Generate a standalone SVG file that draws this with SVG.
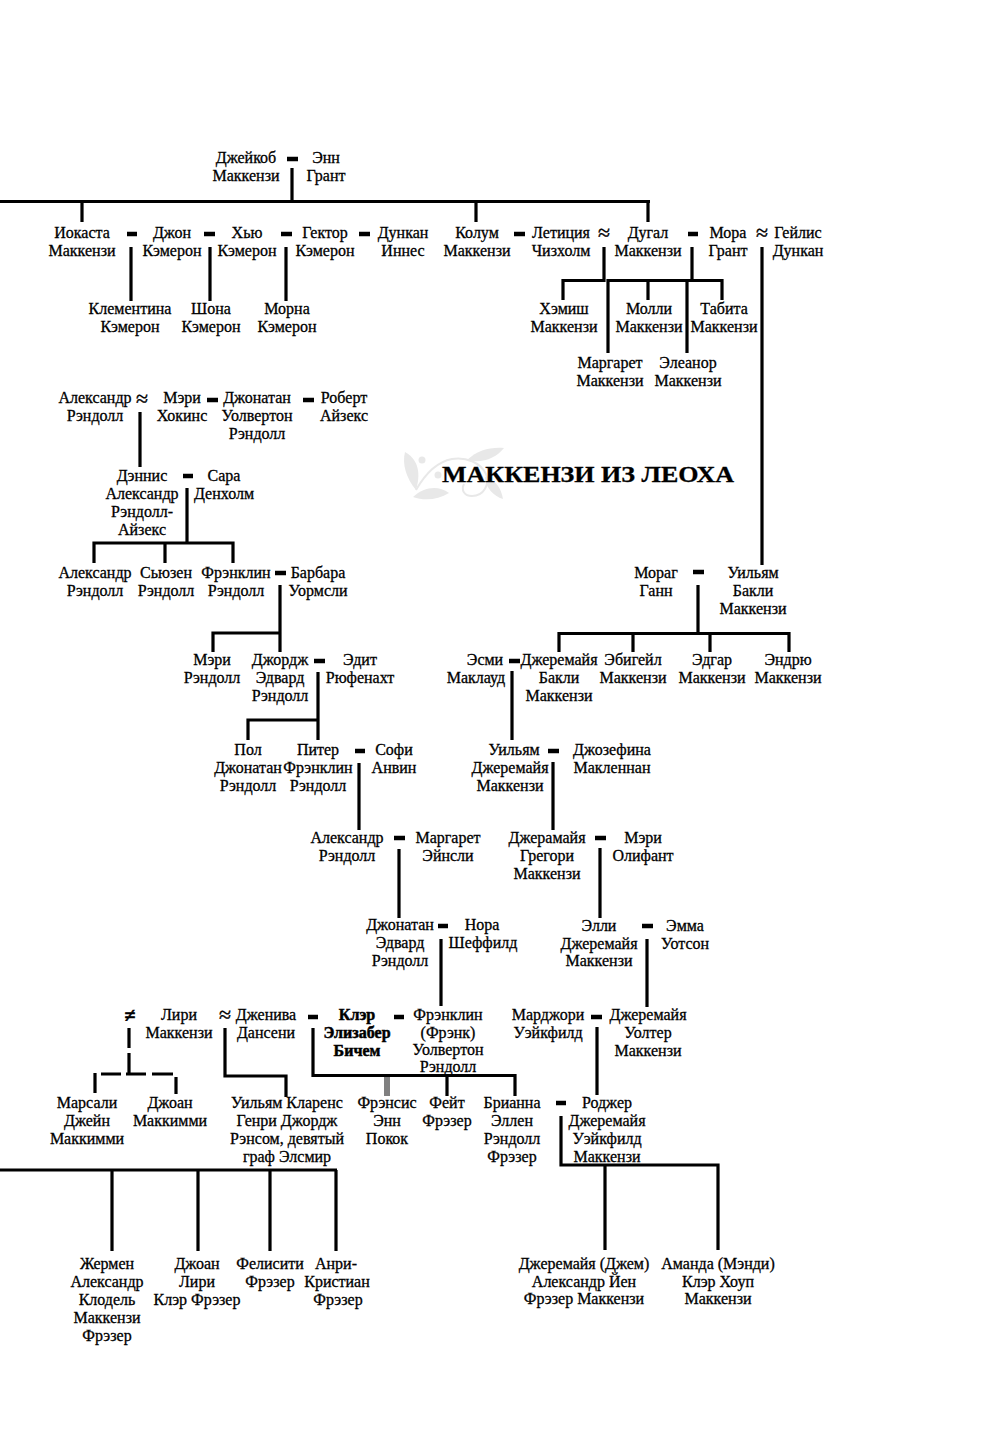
<svg xmlns="http://www.w3.org/2000/svg" width="986" height="1447" viewBox="0 0 986 1447">
<style>
text{font-family:"Liberation Serif","DejaVu Serif",serif;font-size:16px;fill:#000;stroke:#000;stroke-width:.3;text-anchor:middle}
.b{font-weight:700;stroke-width:.5}
.title{font-size:24px;font-weight:700;stroke-width:.3;text-anchor:start}
.sym{font-size:22px;stroke-width:.4}
.ne{font-size:20px;font-weight:700;stroke-width:.6}
#connectors path{fill:none;stroke:#000;stroke-width:3.2}
#connectors .gray{stroke:#808080;stroke-width:6}
#connectors .m{stroke-width:4.6}
#ornament *{fill:#e8e8e8;stroke:none}
#ornament .s{fill:none;stroke:#e8e8e8;stroke-width:2}
</style>
<rect width="986" height="1447" fill="#fff"/>
<g id="ornament">
<path d="M405 452C416 458 422 470 416 490C406 478 402 464 405 452Z"/>
<path d="M413 497C424 487 438 485 449 493C438 500 424 501 413 497Z"/>
<path d="M467 460C478 450 490 447 504 448C496 458 482 464 467 460Z"/>
<path d="M485 477C496 480 501 488 503 499C493 496 486 488 485 477Z"/>
<circle cx="422" cy="460" r="3.5"/><circle cx="438" cy="475" r="3.5"/>
<path class="s" d="M416 490C424 476 436 462 452 459C466 457 480 462 486 474C490 484 484 496 472 496C464 496 461 490 464 484"/>
</g>
<g id="connectors">
<path d="M292 168V201M0 201.5H650M82 201V222M476 201V222M648 201V222"/>
<path class="m" d="M287 159H298M127 234H137M204 234H215M281 234H292M359 234H370M514 234H525M688 234H698"/>
<path d="M131 247V301M210 247V301M286 247V301"/>
<path d="M604 247V280.5H563V300M692 247V280.5M608 353V280.5H722V300M648 280V300M687 280V353M762 247V565"/>
<path class="m" d="M207 400H218M303 400H314M183 476H193M275 573H286M314 661H325M355 751H365M394 838H405M438 926H448"/>
<path d="M140 412V467M187 488V543M94 563V543H233V563M165 543V563M280 585V652M213 652V633H280M318 672V740M248 740V720H318M359 763V830M399 849V918M441 939V1006"/>
<path class="m" d="M693 572H704M509 661H520M548 751H559M595 838H606M642 926H653M591 1017H602M556 1103H566"/>
<path d="M698 585V633M559 652V633.5H789V652M633 633V652M710 633V652M512 671V740M553 762V830M600 848V918M647 939V1007M597 1027V1095M561 1116V1165H718V1250M605 1165V1250"/>
<path d="M129 1028V1048M129 1053V1074M101 1074H121M126 1074H146M152 1074H173M95 1073V1093M176 1077V1094"/>
<path class="m" d="M308 1017H318M394 1017H404"/>
<path d="M225 1028V1076H286V1097M313 1028V1075.5H515V1096M447 1075V1096"/>
<path class="gray" d="M387 1077V1096"/>
<path d="M0 1170H337M112 1170V1251M198 1170V1251M270 1170V1251M336 1170V1251"/>
</g>
<g id="symbols">
<text class="sym" x="604" y="240">≈</text>
<text class="sym" x="762" y="240">≈</text>
<text class="sym" x="142" y="406">≈</text>
<text class="sym" x="225" y="1022">≈</text>
<text class="ne" x="130" y="1022">≠</text>
</g>
<g id="title"><text class="title" x="442" y="482" textLength="292" lengthAdjust="spacingAndGlyphs">МАККЕНЗИ ИЗ ЛЕОХА</text></g>
<g id="n1"><text x="246" y="163">Джейкоб</text><text x="246" y="181">Маккензи</text></g>
<g id="n2"><text x="326" y="163">Энн</text><text x="326" y="181">Грант</text></g>
<g id="n3"><text x="82" y="238">Иокаста</text><text x="82" y="256">Маккензи</text></g>
<g id="n4"><text x="172" y="238">Джон</text><text x="172" y="256">Кэмерон</text></g>
<g id="n5"><text x="247" y="238">Хью</text><text x="247" y="256">Кэмерон</text></g>
<g id="n6"><text x="325" y="238">Гектор</text><text x="325" y="256">Кэмерон</text></g>
<g id="n7"><text x="403" y="238">Дункан</text><text x="403" y="256">Иннес</text></g>
<g id="n8"><text x="477" y="238">Колум</text><text x="477" y="256">Маккензи</text></g>
<g id="n9"><text x="561" y="238">Летиция</text><text x="561" y="256">Чизхолм</text></g>
<g id="n10"><text x="648" y="238">Дугал</text><text x="648" y="256">Маккензи</text></g>
<g id="n11"><text x="728" y="238">Мора</text><text x="728" y="256">Грант</text></g>
<g id="n12"><text x="798" y="238">Гейлис</text><text x="798" y="256">Дункан</text></g>
<g id="n13"><text x="130" y="314">Клементина</text><text x="130" y="332">Кэмерон</text></g>
<g id="n14"><text x="211" y="314">Шона</text><text x="211" y="332">Кэмерон</text></g>
<g id="n15"><text x="287" y="314">Морна</text><text x="287" y="332">Кэмерон</text></g>
<g id="n16"><text x="564" y="314">Хэмиш</text><text x="564" y="332">Маккензи</text></g>
<g id="n17"><text x="649" y="314">Молли</text><text x="649" y="332">Маккензи</text></g>
<g id="n18"><text x="724" y="314">Табита</text><text x="724" y="332">Маккензи</text></g>
<g id="n19"><text x="610" y="368">Маргарет</text><text x="610" y="386">Маккензи</text></g>
<g id="n20"><text x="688" y="368">Элеанор</text><text x="688" y="386">Маккензи</text></g>
<g id="n21"><text x="95" y="403">Александр</text><text x="95" y="421">Рэндолл</text></g>
<g id="n22"><text x="182" y="403">Мэри</text><text x="182" y="421">Хокинс</text></g>
<g id="n23"><text x="257" y="403">Джонатан</text><text x="257" y="421">Уолвертон</text><text x="257" y="439">Рэндолл</text></g>
<g id="n24"><text x="344" y="403">Роберт</text><text x="344" y="421">Айзекс</text></g>
<g id="n25"><text x="142" y="481">Дэннис</text><text x="142" y="499">Александр</text><text x="142" y="517">Рэндолл-</text><text x="142" y="535">Айзекс</text></g>
<g id="n26"><text x="224" y="481">Сара</text><text x="224" y="499">Денхолм</text></g>
<g id="n27"><text x="95" y="578">Александр</text><text x="95" y="596">Рэндолл</text></g>
<g id="n28"><text x="166" y="578">Сьюзен</text><text x="166" y="596">Рэндолл</text></g>
<g id="n29"><text x="236" y="578">Фрэнклин</text><text x="236" y="596">Рэндолл</text></g>
<g id="n30"><text x="318" y="578">Барбара</text><text x="318" y="596">Уормсли</text></g>
<g id="n31"><text x="212" y="665">Мэри</text><text x="212" y="683">Рэндолл</text></g>
<g id="n32"><text x="280" y="665">Джордж</text><text x="280" y="683">Эдвард</text><text x="280" y="701">Рэндолл</text></g>
<g id="n33"><text x="360" y="665">Эдит</text><text x="360" y="683">Рюфенахт</text></g>
<g id="n34"><text x="248" y="755">Пол</text><text x="248" y="773">Джонатан</text><text x="248" y="791">Рэндолл</text></g>
<g id="n35"><text x="318" y="755">Питер</text><text x="318" y="773">Фрэнклин</text><text x="318" y="791">Рэндолл</text></g>
<g id="n36"><text x="394" y="755">Софи</text><text x="394" y="773">Анвин</text></g>
<g id="n37"><text x="347" y="843">Александр</text><text x="347" y="861">Рэндолл</text></g>
<g id="n38"><text x="448" y="843">Маргарет</text><text x="448" y="861">Эйнсли</text></g>
<g id="n39"><text x="400" y="930">Джонатан</text><text x="400" y="948">Эдвард</text><text x="400" y="966">Рэндолл</text></g>
<g id="n40"><text x="482" y="930">Нора</text><text x="483" y="948">Шеффилд</text></g>
<g id="n41"><text x="656" y="578">Мораг</text><text x="656" y="596">Ганн</text></g>
<g id="n42"><text x="753" y="578">Уильям</text><text x="753" y="596">Бакли</text><text x="753" y="614">Маккензи</text></g>
<g id="n43"><text x="485" y="665">Эсми</text><text x="476" y="683">Маклауд</text></g>
<g id="n44"><text x="559" y="665">Джеремайя</text><text x="559" y="683">Бакли</text><text x="559" y="701">Маккензи</text></g>
<g id="n45"><text x="633" y="665">Эбигейл</text><text x="633" y="683">Маккензи</text></g>
<g id="n46"><text x="712" y="665">Эдгар</text><text x="712" y="683">Маккензи</text></g>
<g id="n47"><text x="788" y="665">Эндрю</text><text x="788" y="683">Маккензи</text></g>
<g id="n48"><text x="514" y="755">Уильям</text><text x="510" y="773">Джеремайя</text><text x="510" y="791">Маккензи</text></g>
<g id="n49"><text x="612" y="755">Джозефина</text><text x="612" y="773">Макленнан</text></g>
<g id="n50"><text x="547" y="843">Джерамайя</text><text x="547" y="861">Грегори</text><text x="547" y="879">Маккензи</text></g>
<g id="n51"><text x="643" y="843">Мэри</text><text x="643" y="861">Олифант</text></g>
<g id="n52"><text x="599" y="931">Элли</text><text x="599" y="949">Джеремайя</text><text x="599" y="966">Маккензи</text></g>
<g id="n53"><text x="685" y="931">Эмма</text><text x="685" y="949">Уотсон</text></g>
<g id="n54"><text x="548" y="1020">Марджори</text><text x="548" y="1038">Уэйкфилд</text></g>
<g id="n55"><text x="648" y="1020">Джеремайя</text><text x="648" y="1038">Уолтер</text><text x="648" y="1056">Маккензи</text></g>
<g id="n56"><text x="179" y="1020">Лири</text><text x="179" y="1038">Маккензи</text></g>
<g id="n57"><text x="266" y="1020">Дженива</text><text x="266" y="1038">Дансени</text></g>
<g id="n58"><text class="b" x="357" y="1020">Клэр</text><text class="b" x="357" y="1038">Элизабер</text><text class="b" x="357" y="1056">Бичем</text></g>
<g id="n59"><text x="448" y="1020">Фрэнклин</text><text x="448" y="1038">(Фрэнк)</text><text x="448" y="1055">Уолвертон</text><text x="448" y="1072">Рэндолл</text></g>
<g id="n60"><text x="87" y="1108">Марсали</text><text x="87" y="1126">Джейн</text><text x="87" y="1144">Маккимми</text></g>
<g id="n61"><text x="170" y="1108">Джоан</text><text x="170" y="1126">Маккимми</text></g>
<g id="n62"><text x="287" y="1108">Уильям Кларенс</text><text x="287" y="1126">Генри Джордж</text><text x="287" y="1144">Рэнсом, девятый</text><text x="287" y="1162">граф Элсмир</text></g>
<g id="n63"><text x="387" y="1108">Фрэнсис</text><text x="387" y="1126">Энн</text><text x="387" y="1144">Покок</text></g>
<g id="n64"><text x="447" y="1108">Фейт</text><text x="447" y="1126">Фрэзер</text></g>
<g id="n65"><text x="512" y="1108">Брианна</text><text x="512" y="1126">Эллен</text><text x="512" y="1144">Рэндолл</text><text x="512" y="1162">Фрэзер</text></g>
<g id="n66"><text x="607" y="1108">Роджер</text><text x="607" y="1126">Джеремайя</text><text x="607" y="1144">Уэйкфилд</text><text x="607" y="1162">Маккензи</text></g>
<g id="n67"><text x="107" y="1269">Жермен</text><text x="107" y="1287">Александр</text><text x="107" y="1305">Клодель</text><text x="107" y="1323">Маккензи</text><text x="107" y="1341">Фрэзер</text></g>
<g id="n68"><text x="197" y="1269">Джоан</text><text x="197" y="1287">Лири</text><text x="197" y="1305">Клэр Фрэзер</text></g>
<g id="n69"><text x="270" y="1269">Фелисити</text><text x="270" y="1287">Фрэзер</text></g>
<g id="n70"><text x="336" y="1269">Анри-</text><text x="337" y="1287">Кристиан</text><text x="338" y="1305">Фрэзер</text></g>
<g id="n71"><text x="584" y="1269">Джеремайя (Джем)</text><text x="584" y="1287">Александр Йен</text><text x="584" y="1304">Фрэзер Маккензи</text></g>
<g id="n72"><text x="718" y="1269">Аманда (Мэнди)</text><text x="718" y="1287">Клэр Хоуп</text><text x="718" y="1304">Маккензи</text></g>
</svg>
